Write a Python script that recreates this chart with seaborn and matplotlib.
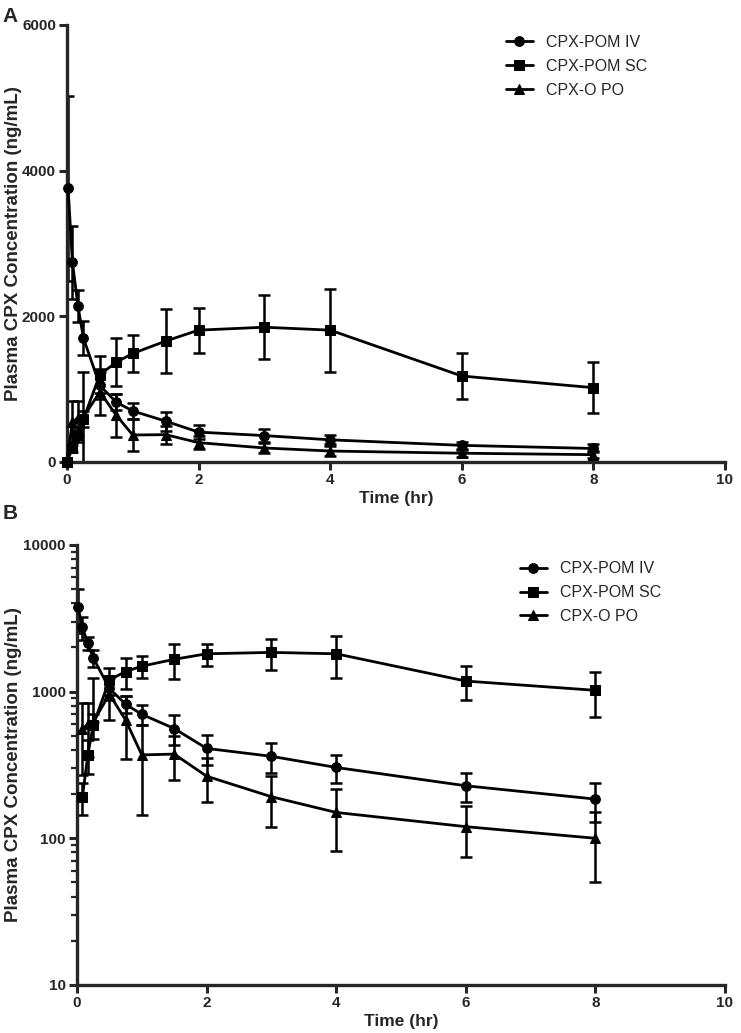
"""
Plasma CPX concentration-time profiles (linear + log panels).
Saves out.png
"""

import numpy as np
import pandas as pd
import matplotlib
matplotlib.use('Agg')
import matplotlib.pyplot as plt
import matplotlib.ticker as mticker
import seaborn as sns

sns.set_theme(style='ticks')
plt.rcParams['font.family'] = ['Liberation Sans', 'DejaVu Sans']
plt.rcParams['font.weight'] = 'bold'

# ── data ─────────────────────────────────────────────────────────────────────

time_iv = [0.0167, 0.083, 0.167, 0.25, 0.5, 0.75, 1, 1.5, 2, 3, 4, 6, 8]
iv_mean = [3760, 2740, 2140, 1700, 1050, 820, 700, 560, 410, 362, 304, 228, 185]
iv_sd   = [1270, 505, 220, 230, 180, 110, 105, 130, 95, 84, 64, 50, 55]

time_sc = [0, 0.083, 0.167, 0.25, 0.5, 0.75, 1, 1.5, 2, 3, 4, 6, 8]
sc_mean = [0, 190, 370, 590, 1200, 1370, 1490, 1660, 1810, 1850, 1810, 1180, 1020]
sc_sd   = [0, 47, 97, 115, 250, 330, 250, 440, 310, 440, 570, 310, 350]

time_po = [0, 0.083, 0.167, 0.25, 0.5, 0.75, 1, 1.5, 2, 3, 4, 6, 8]
po_mean = [0, 555, 600, 620, 960, 640, 370, 375, 265, 192, 150, 120, 100]
po_sd   = [0, 285, 240, 620, 320, 295, 225, 125, 88, 72, 68, 46, 50]

groups = ['CPX-POM IV', 'CPX-POM SC', 'CPX-O PO']
markers = {'CPX-POM IV': 'o', 'CPX-POM SC': 's', 'CPX-O PO': '^'}

df = pd.concat([
    pd.DataFrame({'time': time_iv, 'conc': iv_mean, 'sd': iv_sd, 'group': groups[0]}),
    pd.DataFrame({'time': time_sc, 'conc': sc_mean, 'sd': sc_sd, 'group': groups[1]}),
    pd.DataFrame({'time': time_po, 'conc': po_mean, 'sd': po_sd, 'group': groups[2]}),
], ignore_index=True)

LW = 2.0
YLABEL = 'Plasma CPX Concentration (ng/mL)'


def _draw(ax, log=False):
    for g in groups:
        d = df[df['group'] == g]
        if log:
            d = d[d['conc'] > 0]
        sns.lineplot(data=d, x='time', y='conc', ax=ax, color='black',
                     marker=markers[g], markersize=7 if g != 'CPX-O PO' else 7.5,
                     markeredgecolor='black', markerfacecolor='black',
                     linewidth=LW, label=g, clip_on=False, zorder=3)
        e = d[d['sd'] > 0]
        lo = e['sd'].values.copy()
        if log:
            # lower bar dropped where mean - sd is not positive
            lo = np.where(e['conc'].values - lo > 0, lo, 0)
        ax.errorbar(e['time'], e['conc'], yerr=[lo, e['sd'].values], fmt='none',
                    ecolor='black', elinewidth=1.8, capsize=4.5, capthick=1.8,
                    zorder=2)


def _style(ax, label_x):
    sns.despine(ax=ax)
    for s in ('left', 'bottom'):
        ax.spines[s].set_linewidth(2.4)
    ax.tick_params(which='major', length=6, width=2.2, labelsize=11, pad=2)
    ax.tick_params(which='minor', length=4, width=1.6)
    ax.set_xlim(0, 10)
    ax.set_xticks([0, 2, 4, 6, 8, 10])
    ax.set_ylabel(YLABEL, fontsize=13.5, fontweight='bold')
    ax.yaxis.set_label_coords(label_x, 0.5)
    ax.set_xlabel('Time (hr)', fontsize=12.5, fontweight='bold', labelpad=3)


def _bold_ticks(ax):
    for lab in ax.get_xticklabels() + ax.get_yticklabels():
        lab.set_fontweight('bold')


fig = plt.figure(figsize=(7.41, 10.33), dpi=100)

# ── A: linear ────────────────────────────────────────────────────────────────
axA = fig.add_axes([0.0904, 0.5528, 0.888, 0.423])
_draw(axA)
_style(axA, -0.069)
axA.set_ylim(0, 6000)
axA.set_yticks([0, 2000, 4000, 6000])
_bold_ticks(axA)
axA.legend(loc='upper left', bbox_to_anchor=(0.645, 1.01), frameon=False,
           handlelength=1.7, handletextpad=0.8, labelspacing=0.55,
           prop={'weight': 'normal', 'size': 11.5})

# ── B: log ───────────────────────────────────────────────────────────────────
axB = fig.add_axes([0.1039, 0.0465, 0.8745, 0.426])
_draw(axB, log=True)
axB.set_yscale('log')
_style(axB, -0.085)
axB.set_ylim(10, 10000)
axB.yaxis.set_major_locator(mticker.LogLocator(base=10, numticks=10))
axB.yaxis.set_major_formatter(mticker.FuncFormatter(lambda v, p: f'{v:.0f}'))
axB.yaxis.set_minor_locator(mticker.LogLocator(base=10, subs=np.arange(2, 10), numticks=20))
axB.yaxis.set_minor_formatter(mticker.NullFormatter())
_bold_ticks(axB)
axB.legend(loc='upper left', bbox_to_anchor=(0.661, 0.995), frameon=False,
           handlelength=1.7, handletextpad=0.8, labelspacing=0.55,
           prop={'weight': 'normal', 'size': 11.5})

fig.text(0.004, 0.993, 'A', fontsize=15, fontweight='bold', va='top')
fig.text(0.004, 0.512, 'B', fontsize=15, fontweight='bold', va='top')

fig.savefig('out.png', dpi=100)
plt.close(fig)
